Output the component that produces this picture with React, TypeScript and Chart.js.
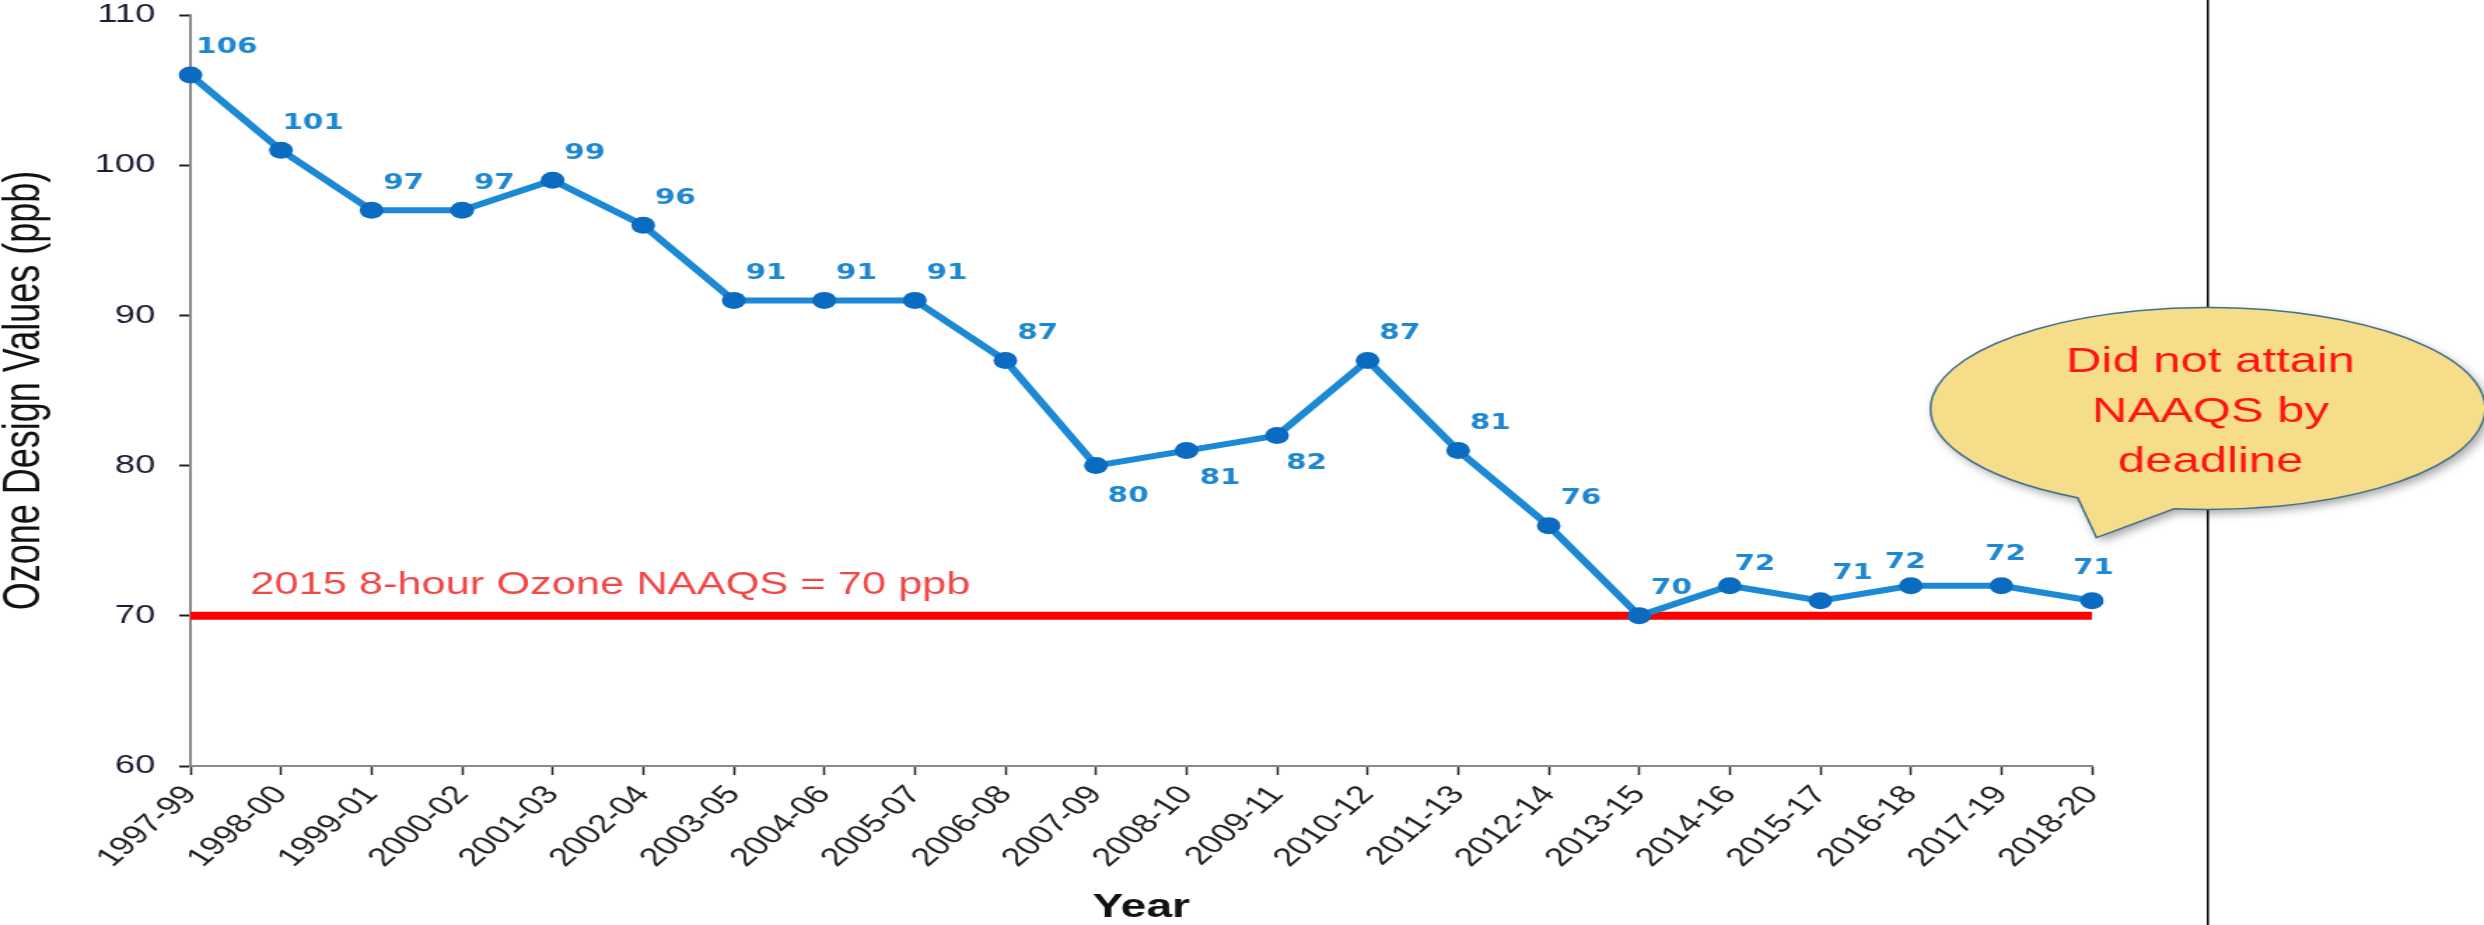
import React, { useEffect, useRef } from 'react';
import { Chart, registerables } from 'chart.js';

Chart.register(...registerables);

// ---------------- data ----------------
const categories = [
  '1997-99', '1998-00', '1999-01', '2000-02', '2001-03', '2002-04', '2003-05', '2004-06',
  '2005-07', '2006-08', '2007-09', '2008-10', '2009-11', '2010-12', '2011-13', '2012-14',
  '2013-15', '2014-16', '2015-17', '2016-18', '2017-19', '2018-20',
];
const designValues = [106, 101, 97, 97, 99, 96, 91, 91, 91, 87, 80, 81, 82, 87, 81, 76, 70, 72, 71, 72, 72, 71];
const naaqsLevel = 70;
const naaqsStart = '1997-99';
const naaqsEnd = '2018-20';
const yMin = 60;
const yMax = 110;
const yStep = 10;
const yTitle = 'Ozone Design Values (ppb)';
const xTitle = 'Year';
const naaqsLabel = '2015 8-hour Ozone NAAQS = 70 ppb';
const calloutLines = ['Did not attain', 'NAAQS by', 'deadline'];

// ---------------- styling / placement (not data) ----------------
const STRETCH = 1.4; // the reference picture is horizontally stretched
const W = 2484;
const H = 925;
const IW = Math.round(W / STRETCH);
const PLOT_TOP = 15;
const PLOT_BOTTOM = 766;

const LABEL_DEFAULT: [number, number] = [23, -27];
const LABEL_OFFSETS: Record<string, [number, number]> = {
  '1997-99': [26, -28],
  '2007-09': [23, 31],
  '2008-10': [24, 28],
  '2009-11': [21, 28],
  '2014-16': [18, -21],
  '2016-18': [-4, -23],
  '2017-19': [3, -31],
  '2018-20': [1, -32],
};

const overlayPlugin = {
  id: 'overlay',
  afterDatasetsDraw(chart: any) {
    const { ctx } = chart;
    const xs = chart.scales.x;
    const ys = chart.scales.y;
    ctx.save();
    // NAAQS label
    ctx.font = '31px "Liberation Sans", Arial, sans-serif';
    ctx.fillStyle = '#f04848';
    ctx.textAlign = 'left';
    ctx.textBaseline = 'middle';
    ctx.fillText(naaqsLabel, xs.getPixelForValue(0.66), ys.getPixelForValue(72));

    // data labels
    const meta = chart.getDatasetMeta(0);
    ctx.font = 'bold 21px "DejaVu Sans", Verdana, sans-serif';
    ctx.fillStyle = '#1d87d1';
    ctx.textAlign = 'center';
    meta.data.forEach((pt: any, i: number) => {
      const off = LABEL_OFFSETS[categories[i]] ?? LABEL_DEFAULT;
      ctx.fillText(String(designValues[i]), pt.x + off[0], pt.y + off[1]);
    });
    ctx.restore();
  },
  afterDraw(chart: any) {
    const { ctx } = chart;
    const xs = chart.scales.x;
    const ys = chart.scales.y;
    ctx.save();
    // divider line
    const dx = xs.getPixelForValue(22.28);
    ctx.strokeStyle = '#111';
    ctx.lineWidth = 1.6;
    ctx.beginPath();
    ctx.moveTo(dx, 0);
    ctx.lineTo(dx, chart.height);
    ctx.stroke();

    // callout
    const cx = xs.getPixelForValue(22.28);
    const cy = ys.getPixelForValue(83.8);
    const rx = 198;
    const ry = 101;
    const tipX = xs.getPixelForValue(21.05);
    const tipY = ys.getPixelForValue(75.2);
    const a1 = (97 * Math.PI) / 180;
    const a2 = (118 * Math.PI) / 180;
    ctx.beginPath();
    ctx.moveTo(tipX, tipY);
    ctx.lineTo(cx + rx * Math.cos(a1), cy + ry * Math.sin(a1));
    ctx.ellipse(cx, cy, rx, ry, 0, a1, a2, true);
    ctx.closePath();
    ctx.shadowColor = 'rgba(0,0,0,0.35)';
    ctx.shadowBlur = 8;
    ctx.shadowOffsetX = 3;
    ctx.shadowOffsetY = 4;
    ctx.fillStyle = '#f6dd8a';
    ctx.fill();
    ctx.shadowColor = 'transparent';
    ctx.strokeStyle = '#44708f';
    ctx.lineWidth = 1.5;
    ctx.stroke();

    ctx.font = '35px "Liberation Sans", Arial, sans-serif';
    ctx.fillStyle = '#ff1414';
    ctx.textAlign = 'center';
    ctx.textBaseline = 'middle';
    const tx = xs.getPixelForValue(22.31);
    calloutLines.forEach((line, i) => {
      ctx.fillText(line, tx, cy - 46 + i * 50);
    });
    ctx.restore();
  },
};

export default function App() {
  const ref = useRef<HTMLCanvasElement>(null);

  useEffect(() => {
    const canvas = ref.current;
    if (!canvas) return;
    const chart = new Chart(canvas, {
      type: 'line',
      data: {
        labels: categories,
        datasets: [
          {
            label: 'Design value',
            data: designValues,
            borderColor: '#1b89d3',
            borderWidth: 6,
            backgroundColor: '#0a6bc1',
            pointBackgroundColor: '#0a6bc1',
            pointBorderWidth: 0,
            pointRadius: 8.5,
            pointStyle: 'circle',
            tension: 0,
          },
          {
            label: 'NAAQS',
            data: [
              { x: naaqsStart, y: naaqsLevel },
              { x: naaqsEnd, y: naaqsLevel },
            ] as any,
            borderColor: '#ff0000',
            borderWidth: 8,
            borderCapStyle: 'butt',
            pointRadius: 0,
          },
        ],
      },
      options: {
        responsive: false,
        devicePixelRatio: 1,
        animation: false,
        layout: { padding: { top: PLOT_TOP, right: IW - Math.round(2091 / STRETCH), bottom: 0, left: 0 } },
        plugins: { legend: { display: false }, tooltip: { enabled: false } },
        scales: {
          x: {
            type: 'category',
            offset: false,
            grid: { display: true, drawOnChartArea: false, drawTicks: true, tickLength: 9, tickColor: '#222', tickWidth: 1.5 },
            border: { display: true, color: '#8a8a8a', width: 2 },
            ticks: {
              autoSkip: false,
              maxRotation: 50,
              minRotation: 50,
              padding: 5,
              color: '#222',
              font: { family: '"Liberation Sans", Arial, sans-serif', size: 26 },
            },
            title: {
              display: true,
              text: xTitle,
              color: '#111',
              font: { family: '"Liberation Sans", Arial, sans-serif', size: 33, weight: 'bold', lineHeight: 1 },
              padding: { top: 0, bottom: 1 },
            },
            afterFit: (s: any) => {
              s.height = H - PLOT_BOTTOM;
            },
          },
          y: {
            min: yMin,
            max: yMax,
            ticks: {
              stepSize: yStep,
              padding: 17,
              color: '#1b1b33',
              font: { family: '"Liberation Sans", Arial, sans-serif', size: 26, lineHeight: 1 },
            },
            grid: { display: true, drawOnChartArea: false, drawTicks: true, tickLength: 8, tickColor: '#222', tickWidth: 2 },
            border: { display: true, color: '#8a8a8a', width: 2 },
            title: {
              display: true,
              text: yTitle,
              color: '#111',
              font: { family: '"Liberation Sans", Arial, sans-serif', size: 36, lineHeight: 1 },
              padding: { top: 0, bottom: 0 },
            },
            afterFit: (s: any) => {
              s.width = Math.round(190 / STRETCH);
              s.paddingTop = PLOT_TOP;
              s.paddingBottom = 0;
            },
          },
        },
      } as any,
      plugins: [overlayPlugin],
    });
    return () => chart.destroy();
  }, []);

  return (
    <div style={{ position: 'absolute', left: 0, top: 0, width: W, height: H, overflow: 'hidden', background: '#fff' }}>
      <canvas ref={ref} width={IW} height={H} style={{ width: `${W}px`, height: `${H}px`, display: 'block' }} />
    </div>
  );
}
